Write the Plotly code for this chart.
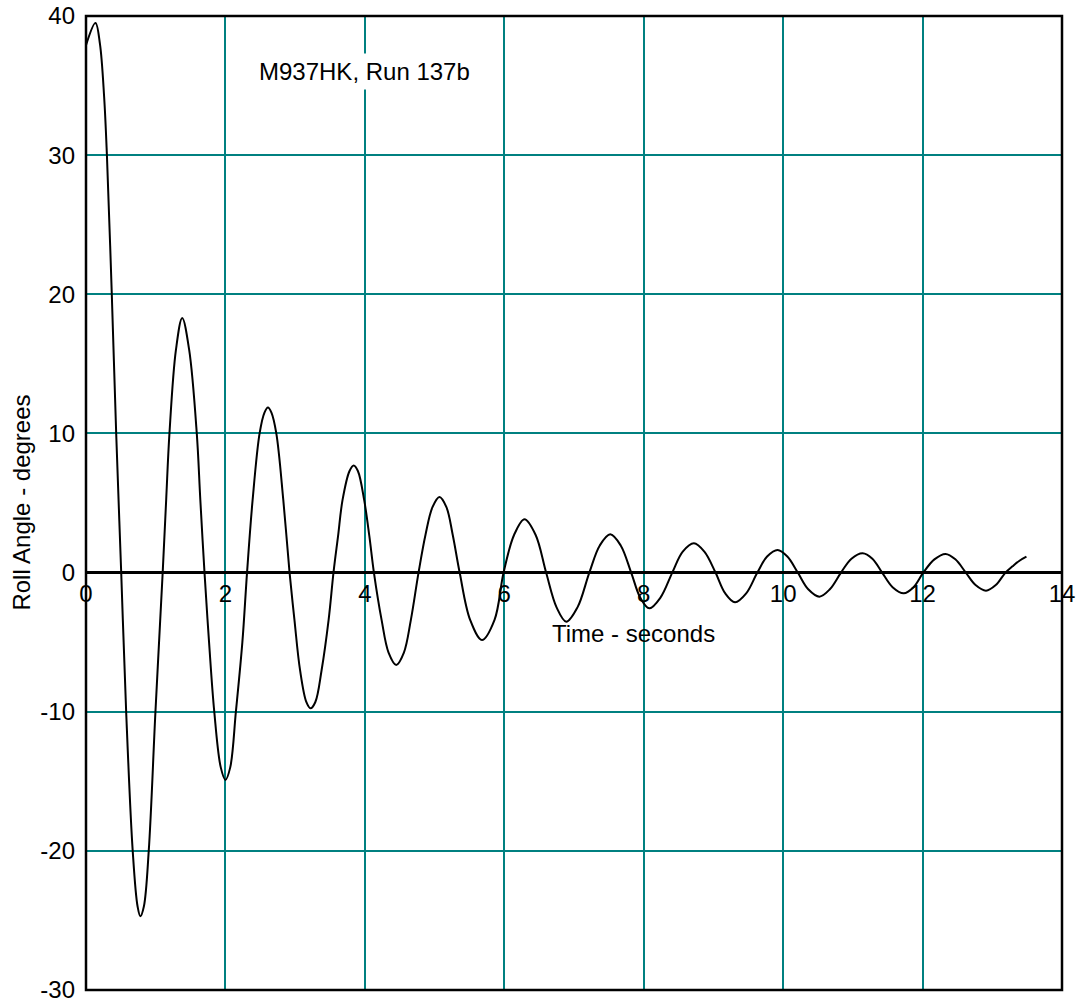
import plotly.graph_objects as go

# ---- data (time in s, roll angle in degrees) ----
time_s = [0.0, 0.136, 0.20, 0.26, 0.30, 0.37, 0.433, 0.505,
          0.576, 0.67, 0.74, 0.78, 0.83, 0.90, 0.996, 1.10,
          1.15, 1.197, 1.29, 1.38, 1.48, 1.589, 1.64, 1.70,
          1.765, 1.84, 1.933, 2.00, 2.069, 2.15, 2.243, 2.31,
          2.39, 2.49, 2.56, 2.61, 2.66, 2.73, 2.83, 2.92,
          2.99, 3.07, 3.16, 3.22, 3.29, 3.38, 3.48, 3.55,
          3.615, 3.68, 3.78, 3.84, 3.90, 3.99, 4.065, 4.13,
          4.24, 4.34, 4.45, 4.56, 4.66, 4.77,
          4.87, 4.97, 5.07, 5.17, 5.26, 5.36,
          5.51, 5.68, 5.86, 5.99, 6.14, 6.29, 6.45, 6.60, 6.75, 6.89,
          7.05, 7.22, 7.37, 7.52, 7.67, 7.82, 7.95, 8.08, 8.24, 8.41, 8.56, 8.72, 8.87, 9.03,
          9.17, 9.31, 9.47, 9.63, 9.77, 9.92, 10.06, 10.21, 10.36, 10.52, 10.67, 10.83,
          10.98, 11.14, 11.28, 11.42, 11.57, 11.73, 11.87, 12.01, 12.17, 12.33, 12.47,
          12.62, 12.76, 12.91, 13.05, 13.19, 13.29, 13.39, 13.49]
roll_deg = [37.9, 39.5, 38.0, 34.2, 30.0, 20.0, 10.0, 0.0,
            -10.0, -20.0, -24.0, -24.7, -24.0, -20.0, -10.0, 0.0,
            5.22, 10.0, 16.0, 18.3, 16.0, 10.0, 5.22, 0.0,
            -5.0, -10.0, -14.0, -14.9, -14.0, -10.0, -5.0, 0.0,
            5.22, 10.0, 11.5, 11.86, 11.5, 10.0, 5.22, 0.0,
            -3.4, -7.0, -9.3, -9.76, -9.3, -7.0, -3.4, 0.0,
            2.6, 5.22, 7.3, 7.69, 7.3, 5.22, 2.6, 0.0,
            -3.4, -5.75, -6.64, -5.75, -3.4, 0.0,
            2.72, 4.70, 5.43, 4.70, 2.72, 0.0,
            -3.4, -4.85, -3.4, 0.0, 2.7, 3.83, 2.7, 0.0, -2.5, -3.53,
            -2.5, 0.0, 1.95, 2.75, 1.95, 0.0, -1.8, -2.57, -1.8, 0.0, 1.5, 2.1, 1.5, 0.0,
            -1.5, -2.14, -1.5, 0.0, 1.15, 1.62, 1.15, 0.0, -1.2, -1.73, -1.2, 0.0,
            1.0, 1.39, 1.0, 0.0, -1.05, -1.49, -1.05, 0.0, 0.95, 1.34, 0.95,
            0.0, -0.9, -1.30, -0.9, 0.0, 0.45, 0.85, 1.14]

x_ticks = [0, 2, 4, 6, 8, 10, 12, 14]
y_ticks = [-30, -20, -10, 0, 10, 20, 30, 40]
X_RANGE = [0, 14]
Y_RANGE = [-30, 40]

title_text = "M937HK, Run 137b"
x_title = "Time - seconds"
y_title = "Roll Angle - degrees"

FONT = "Liberation Sans, Arial, sans-serif"
TEAL = "#008080"

fig = go.Figure()
fig.add_trace(go.Scatter(
    x=time_s, y=roll_deg, mode="lines",
    line=dict(color="black", width=2, shape="spline", smoothing=1.0),
    hoverinfo="skip", showlegend=False,
))

x_axis_pos = (0 - Y_RANGE[0]) / (Y_RANGE[1] - Y_RANGE[0])

fig.update_layout(
    width=1083, height=1003,
    margin=dict(l=86, r=21, t=16, b=13, autoexpand=False),
    paper_bgcolor="white", plot_bgcolor="white",
    font=dict(family=FONT, size=24, color="black"),
    xaxis=dict(
        range=X_RANGE, tickvals=x_ticks, ticktext=[str(v) for v in x_ticks],
        showgrid=True, gridcolor=TEAL, gridwidth=2,
        zeroline=False, showline=False, ticks="",
        anchor="free", position=x_axis_pos, automargin=False,
        ticklabeloverflow="allow",
        tickfont=dict(family=FONT, size=24, color="black"),
        ticklabelstandoff=4,
    ),
    yaxis=dict(
        range=Y_RANGE, tickvals=y_ticks, ticktext=[str(v) for v in y_ticks],
        showgrid=True, gridcolor=TEAL, gridwidth=2,
        zeroline=True, zerolinecolor="black", zerolinewidth=2.5,
        showline=False, ticks="", automargin=False,
        ticklabeloverflow="allow",
        tickfont=dict(family=FONT, size=24, color="black"),
        ticklabelstandoff=10,
    ),
    shapes=[dict(type="rect", xref="paper", yref="paper", x0=0, x1=1, y0=0, y1=1,
                 line=dict(color="black", width=2.5), layer="above")],
    annotations=[
        dict(text=title_text, x=4, y=36, xref="x", yref="y", showarrow=False,
             xanchor="center", yanchor="middle", bgcolor="white", borderpad=4,
             font=dict(family=FONT, size=24, color="black")),
        dict(text=x_title, x=7.85, y=-4.4, xref="x", yref="y", showarrow=False,
             xanchor="center", yanchor="middle",
             font=dict(family=FONT, size=24, color="black")),
        dict(text=y_title, x=-0.067, y=0.5, xref="paper", yref="paper", showarrow=False,
             textangle=-90, xanchor="center", yanchor="middle",
             font=dict(family=FONT, size=24, color="black")),
    ],
)

fig.write_html("out.html")
